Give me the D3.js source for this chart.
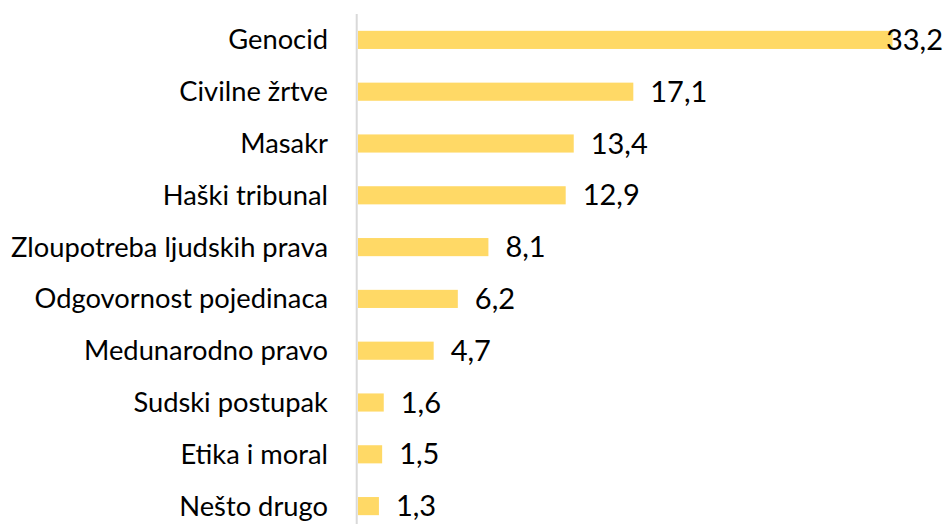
<!DOCTYPE html>
<html lang="hr">
<head>
  <meta charset="UTF-8">
  <title>Bar chart</title>
  <style>
    body { margin: 0; background: #fff; }
    .cat { font-family: Lato, "Open Sans", sans-serif; font-size: 27.3px; fill: #000; }
    .val { font-family: Lato, "Open Sans", sans-serif; font-size: 29px; fill: #000; }
  </style>
</head>
<body>
  <div id="chart"></div>

  <script src="https://cdn.jsdelivr.net/npm/d3@7"></script>
  <script>
    // podaci
    const categories = [
      "Genocid", "Civilne žrtve", "Masakr", "Haški tribunal",
      "Zloupotreba ljudskih prava", "Odgovornost pojedinaca",
      "Medunarodno pravo", "Sudski postupak", "Etika i moral", "Nešto drugo"
    ];
    const values = [33.2, 17.1, 13.4, 12.9, 8.1, 6.2, 4.7, 1.6, 1.5, 1.3];
    const valueLabels = ["33,2", "17,1", "13,4", "12,9", "8,1", "6,2", "4,7", "1,6", "1,5", "1,3"];

    const width = 949;
    const height = 524;

    const svg = d3.select("#chart")
      .append("svg")
      .attr("width", width)
      .attr("height", height);

    const x = d3.scaleLinear().domain([0, 35]).range([358, 921.5]);
    const y = d3.scaleBand().domain(categories).range([14, 532])
      .paddingInner(0.65).paddingOuter(0.325);

    // osi: samo vertikalna linija
    svg.append("line")
      .attr("x1", 356.7).attr("x2", 356.7)
      .attr("y1", 14).attr("y2", height)
      .attr("stroke", "#d9d9d9")
      .attr("stroke-width", 2);

    // stupci
    svg.selectAll("rect.bar")
      .data(categories)
      .enter().append("rect")
      .attr("class", "bar")
      .attr("x", x(0))
      .attr("y", d => y(d))
      .attr("width", (d, i) => x(values[i]) - x(0))
      .attr("height", y.bandwidth())
      .attr("fill", "#FFD966");

    // nazivi kategorija
    svg.selectAll("text.cat")
      .data(categories)
      .enter().append("text")
      .attr("class", "cat")
      .attr("x", 328)
      .attr("y", d => y(d) + y.bandwidth() / 2)
      .attr("dy", "0.35em")
      .attr("text-anchor", "end")
      .text(d => d);

    // vrijednosti
    svg.selectAll("text.val")
      .data(categories)
      .enter().append("text")
      .attr("class", "val")
      .attr("y", d => y(d) + y.bandwidth() / 2)
      .attr("dy", "0.35em")
      .text((d, i) => valueLabels[i])
      .attr("x", function(d, i) {
        const w = this.getComputedTextLength();
        return Math.min(x(values[i]) + 17, 943 - w);
      });
  </script>
</body>
</html>
